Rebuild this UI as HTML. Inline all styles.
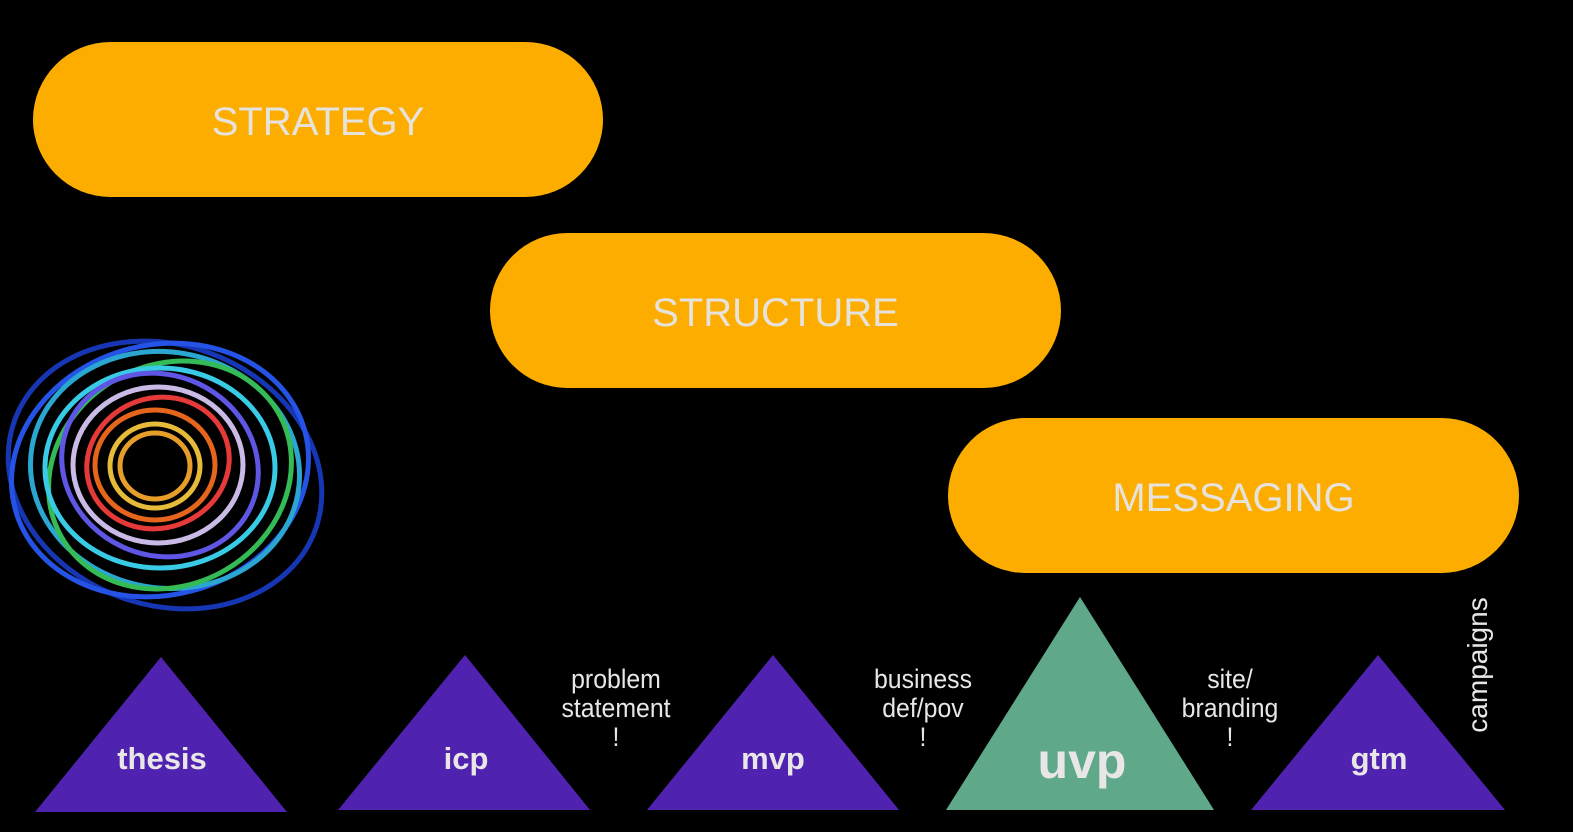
<!DOCTYPE html>
<html><head><style>
html,body{margin:0;padding:0;background:#000;}
body{width:1573px;height:832px;position:relative;overflow:hidden;font-family:"Liberation Sans",sans-serif;}
.pill{position:absolute;background:#fdad00;border-radius:80px;color:#e6e3dc;font-size:40px;display:flex;align-items:center;justify-content:center;padding-top:6px;box-sizing:border-box;}
.t{position:absolute;color:#e8e6e6;text-align:center;font-size:27px;line-height:29px;transform:scaleX(0.92);}
</style></head><body>
<div class="pill" style="left:33px;top:42px;width:570px;height:155px;">STRATEGY</div>
<div class="pill" style="left:490px;top:233px;width:571px;height:155px;">STRUCTURE</div>
<div class="pill" style="left:948px;top:418px;width:571px;height:155px;">MESSAGING</div>
<svg width="1573" height="832" style="position:absolute;left:0;top:0">
<g fill="none" stroke-width="5" opacity="0.9">
<ellipse cx="165" cy="475" rx="160" ry="130" stroke="#1a3cc8" transform="rotate(20 165 475)"/>
<ellipse cx="160" cy="470" rx="150" ry="125" stroke="#2a5cff" transform="rotate(-15 160 470)"/>
<ellipse cx="165" cy="470" rx="135" ry="118" stroke="#2fb8e8" transform="rotate(10 165 470)"/>
<ellipse cx="170" cy="475" rx="125" ry="110" stroke="#3ad060" transform="rotate(-30 170 475)"/>
<ellipse cx="160" cy="468" rx="115" ry="100" stroke="#40e0ff"/>
<ellipse cx="160" cy="465" rx="100" ry="90" stroke="#6a60ff" transform="rotate(25 160 465)"/>
<ellipse cx="158" cy="465" rx="85" ry="78" stroke="#e0d0ff"/>
<ellipse cx="158" cy="463" rx="72" ry="65" stroke="#ff4040" transform="rotate(-20 158 463)"/>
<ellipse cx="155" cy="465" rx="60" ry="55" stroke="#ff7020"/>
<ellipse cx="155" cy="466" rx="45" ry="42" stroke="#ffd040"/>
<ellipse cx="155" cy="466" rx="35" ry="33" stroke="#ffb030"/>
</g>
<polygon points="161,657 35,812 287,812" fill="#4f22b0"/>
<polygon points="465,655 338,810 590,810" fill="#4f22b0"/>
<polygon points="773,655 647,810 899,810" fill="#4f22b0"/>
<polygon points="1080,597 946,810 1214,810" fill="#5fa88a"/>
<polygon points="1378,655 1251,810 1505,810" fill="#4f22b0"/>
<g fill="#e8e6e6" font-family="Liberation Sans, sans-serif" font-weight="bold" text-anchor="middle">
<text x="162" y="769" font-size="31">thesis</text>
<text x="466" y="769" font-size="31">icp</text>
<text x="773" y="769" font-size="31">mvp</text>
<text x="1082" y="778" font-size="50">uvp</text>
<text x="1379" y="769" font-size="31">gtm</text>
</g>
<text x="1487" y="665" fill="#e8e6e6" font-size="28" font-family="Liberation Sans, sans-serif" text-anchor="middle" transform="rotate(-90 1487 665)">campaigns</text>
</svg>
<div class="t" style="left:536px;top:665px;width:160px;">problem<br>statement<br>!</div>
<div class="t" style="left:843px;top:665px;width:160px;">business<br>def/pov<br>!</div>
<div class="t" style="left:1150px;top:665px;width:160px;">site/<br>branding<br>!</div>
</body></html>
